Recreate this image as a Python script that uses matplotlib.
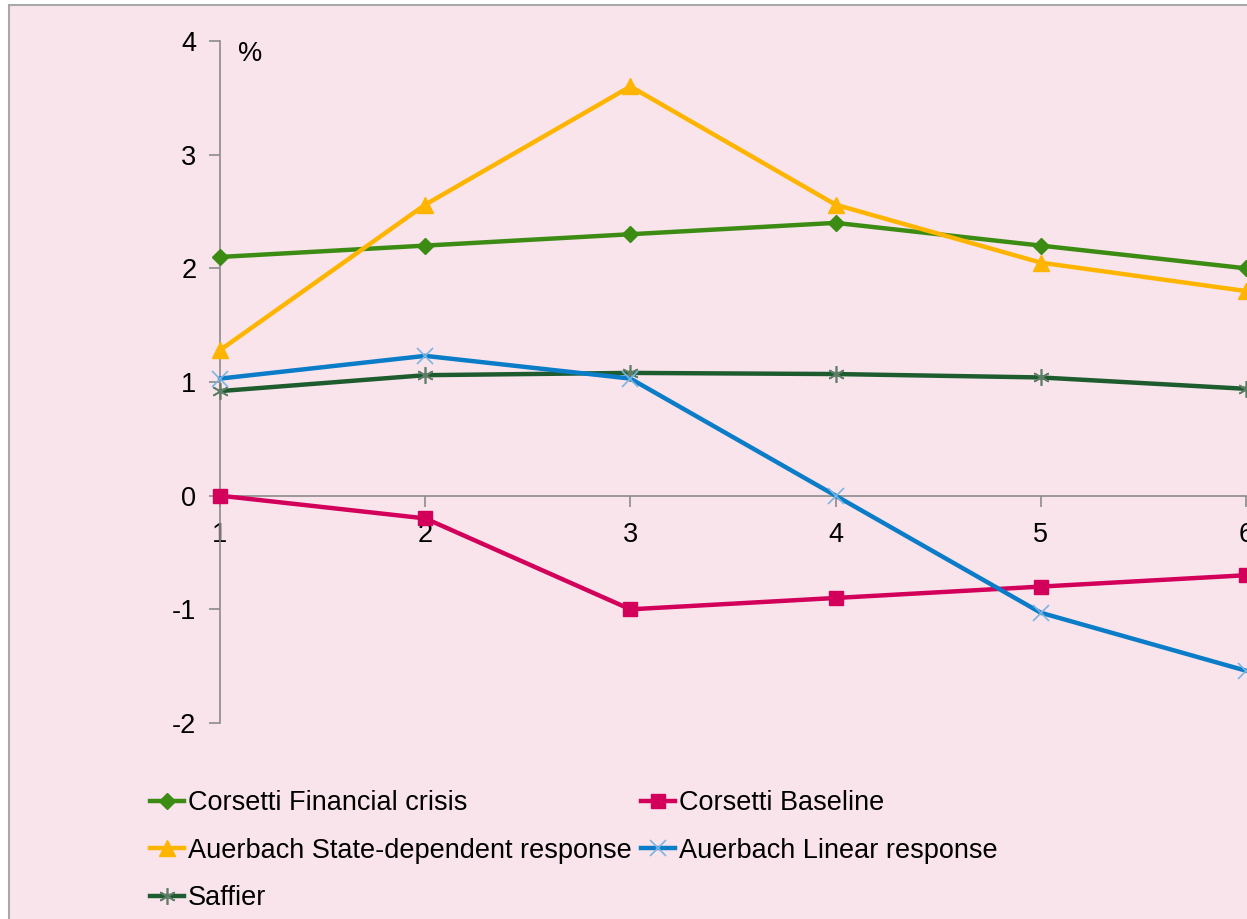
import matplotlib.pyplot as plt
from matplotlib.patches import Rectangle

plt.rcParams['font.family'] = ['Liberation Sans', 'DejaVu Sans']
plt.rcParams['axes.unicode_minus'] = False

quarters = [1, 2, 3, 4, 5, 6]
corsetti_crisis = [2.1, 2.2, 2.3, 2.4, 2.2, 2.0]
corsetti_base = [0.0, -0.2, -1.0, -0.9, -0.8, -0.7]
auerbach_state = [1.28, 2.56, 3.6, 2.56, 2.05, 1.8]
auerbach_linear = [1.03, 1.23, 1.03, 0.0, -1.03, -1.54]
saffier = [0.92, 1.06, 1.08, 1.07, 1.04, 0.94]

W, H = 1247, 919
fig = plt.figure(figsize=(W / 100, H / 100), dpi=100, facecolor='white')

# pink panel with grey frame
fig.patches.append(Rectangle((9 / W, -0.05), 1.1, 1 - 5 / H + 0.05,
                             transform=fig.transFigure, facecolor='#F9E4EC',
                             edgecolor='#A8A8A8', lw=1.5, zorder=-1))

ax = fig.add_axes([220 / W, 1 - 723 / H, (1246 - 220) / W, (723 - 41) / H])
ax.set_facecolor('none')

ax.plot(quarters, corsetti_crisis, color='#3C8C14', lw=3.2, marker='D', ms=8,
        label='Corsetti Financial crisis', clip_on=False, zorder=3)
ax.plot(quarters, auerbach_state, color='#FFB400', lw=3.2, marker='^', ms=11,
        label='Auerbach State-dependent response', clip_on=False, zorder=3)
ax.plot(quarters, saffier, color='#1E5C30', lw=3.2, marker=(6, 2, 0), ms=12,
        mec='#5E7E68', mew=1.2, label='Saffier', clip_on=False, zorder=3)
ax.plot(quarters, corsetti_base, color='#D2005A', lw=3.2, marker='s', ms=10,
        label='Corsetti Baseline', clip_on=False, zorder=3)
ax.plot(quarters, auerbach_linear, color='#0A7CC8', lw=3.2, marker='x', ms=11,
        mec='#7CB4E0', mew=1.2, label='Auerbach Linear response',
        clip_on=False, zorder=3)

ax.set_xlim(1, 6)
ax.set_ylim(-2, 4)
ax.set_xticks(quarters)
ax.set_yticks(range(-2, 5))

for s in ['top', 'right']:
    ax.spines[s].set_visible(False)
ax.spines['bottom'].set_position(('data', 0))
ax.spines['left'].set_position(('data', 1))
for s in ['bottom', 'left']:
    ax.spines[s].set_color('#8C8C8C')
    ax.spines[s].set_linewidth(1.2)

ax.tick_params(axis='both', colors='#8C8C8C', labelcolor='black',
               labelsize=19.5, length=8, width=1.2)
ax.tick_params(axis='x', pad=11)
ax.tick_params(axis='y', pad=9)

ax.text(0.018, 1.0, '%', transform=ax.transAxes, fontsize=19.5,
        va='top', ha='left')

fig.legend(loc='upper left', bbox_to_anchor=(150 / W, 1 - 790 / H), ncol=2,
           frameon=False, fontsize=19.5, handlelength=1.25, handletextpad=0.15,
           columnspacing=0.35, labelspacing=0.8, borderaxespad=0, borderpad=0)

fig.savefig('out.png', dpi=100, facecolor=fig.get_facecolor())
